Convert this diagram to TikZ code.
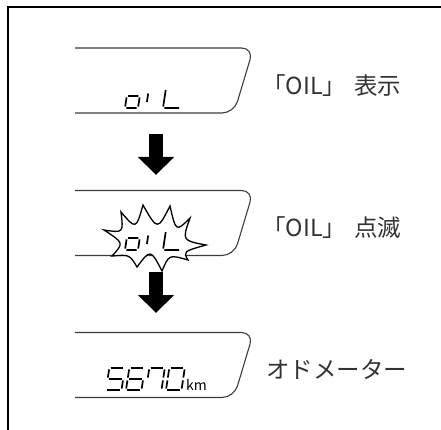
\documentclass[tikz,border=0pt]{standalone}
\usepackage{fontspec}
\setmainfont{Noto Sans CJK JP}
\usetikzlibrary{arrows.meta}
\definecolor{panelgray}{HTML}{3C3C3C}
\definecolor{textgray}{HTML}{333333}
\tikzset{
  lcd w/.store in=\lcdw, lcd h/.store in=\lcdh,
  lcd w=15.5, lcd h=22,
  seg/.style={line width=1.7pt},
  % seven segment digit, #1 = list of lit segments
  pics/lcd/.style={code={
    \begin{scope}[xslant=0.15]
      \coordinate (a1) at (1.4,-\lcdh);         \coordinate (a2) at (\lcdw-1.4,-\lcdh);
      \coordinate (b1) at (\lcdw,-\lcdh+1.4);   \coordinate (b2) at (\lcdw,-\lcdh/2-1.4);
      \coordinate (c1) at (\lcdw,-\lcdh/2+1.4); \coordinate (c2) at (\lcdw,-1.4);
      \coordinate (d1) at (1.4,0);              \coordinate (d2) at (\lcdw-1.4,0);
      \coordinate (e1) at (0,-1.4);             \coordinate (e2) at (0,-\lcdh/2+1.4);
      \coordinate (f1) at (0,-\lcdh/2-1.4);     \coordinate (f2) at (0,-\lcdh+1.4);
      \coordinate (g1) at (1.4,-\lcdh/2);       \coordinate (g2) at (\lcdw-1.4,-\lcdh/2);
      \foreach \s in {#1} {\draw[seg] (\s1) -- (\s2);}
    \end{scope}
  }},
  % "oIL" as shown on the display
  pics/oil/.style={code={
    \begin{scope}[xslant=0.15]
      \draw[seg] (1.4,-12) -- (11.6,-12) (13,-10.6) -- (13,-1.4)
                 (11.6,0) -- (1.4,0) (0,-1.4) -- (0,-10.6);
      \draw[seg] (21,-14.5) -- (21,-6);
      \draw[seg] (38,-18) -- (38,-1.4) (39.4,0) -- (54,0);
    \end{scope}
  }},
  pics/panel/.style={code={
    \draw[panelgray, line width=1.1pt, rounded corners=12pt]
      (0,0) -- (178.5,0) -- (159,65) -- (0,65);
  }}
}
\begin{document}
\begin{tikzpicture}[
        x=1pt, y=-1pt,
        frame/.style={line width=2pt, black},
        burst/.style={draw=black, fill=white, line width=1.3pt, line join=miter},
        fatarrow/.style={line width=14pt, black, -{Triangle[width=35pt, length=18pt]}},
        sidetext/.style={text=textgray, font=\fontsize{23.5}{27}\selectfont, inner sep=0pt, anchor=west},
        kmtext/.style={font=\fontsize{14}{16}\selectfont, inner sep=0pt, anchor=base west}
    ]
        \useasboundingbox (0,0) rectangle (441,430);
        \draw[frame] (8,431) -- (8,7) -- (442,7);

        % Displays
        \pic at (75,48) {panel};
        \pic at (125,108) {oil};

        \pic at (75,190.5) {panel};
        \draw[burst] (104,230) .. controls (123.5,233) .. (121,212)
            .. controls (136,229.5) .. (143,205)
            .. controls (157.5,230.5) .. (170,206)
            .. controls (176,232) .. (190,218)
            .. controls (182,240.5) .. (206,245)
            .. controls (183,251.5) .. (188,260)
            .. controls (169,254.5) .. (162,271)
            .. controls (150.5,249) .. (137,267)
            .. controls (129.5,254.5) .. (112,256)
            .. controls (124,243) .. cycle;
        \pic at (125,250) {oil};

        \pic at (75,332.5) {panel};
        \pic at (106,390) {lcd={a,f,g,c,d}};
        \pic at (126,390) {lcd={a,f,g,e,c,d}};
        \pic at (146,390) {lcd={a,b,c,f}};
        \pic at (166,390) {lcd={a,b,c,d,e,f}};
        \node[kmtext] (km) at (186,390) {km};

        % Arrows
        \coordinate (top1) at (156,134);
        \coordinate (tip1) at (156,175);
        \coordinate (top2) at (156,272);
        \coordinate (tip2) at (156,313);
        \draw[fatarrow] (top1) -- (tip1);
        \draw[fatarrow] (top2) -- (tip2);

        % Labels
        \node[sidetext] (lbl1) at (262,86) {「OIL」\hspace{8pt}表示};
        \node[sidetext] (lbl2) at (262,228) {「OIL」\hspace{8pt}点滅};
        \node[sidetext] (lbl3) at (266,369) {オドメーター};
    \end{tikzpicture}
\end{document}
